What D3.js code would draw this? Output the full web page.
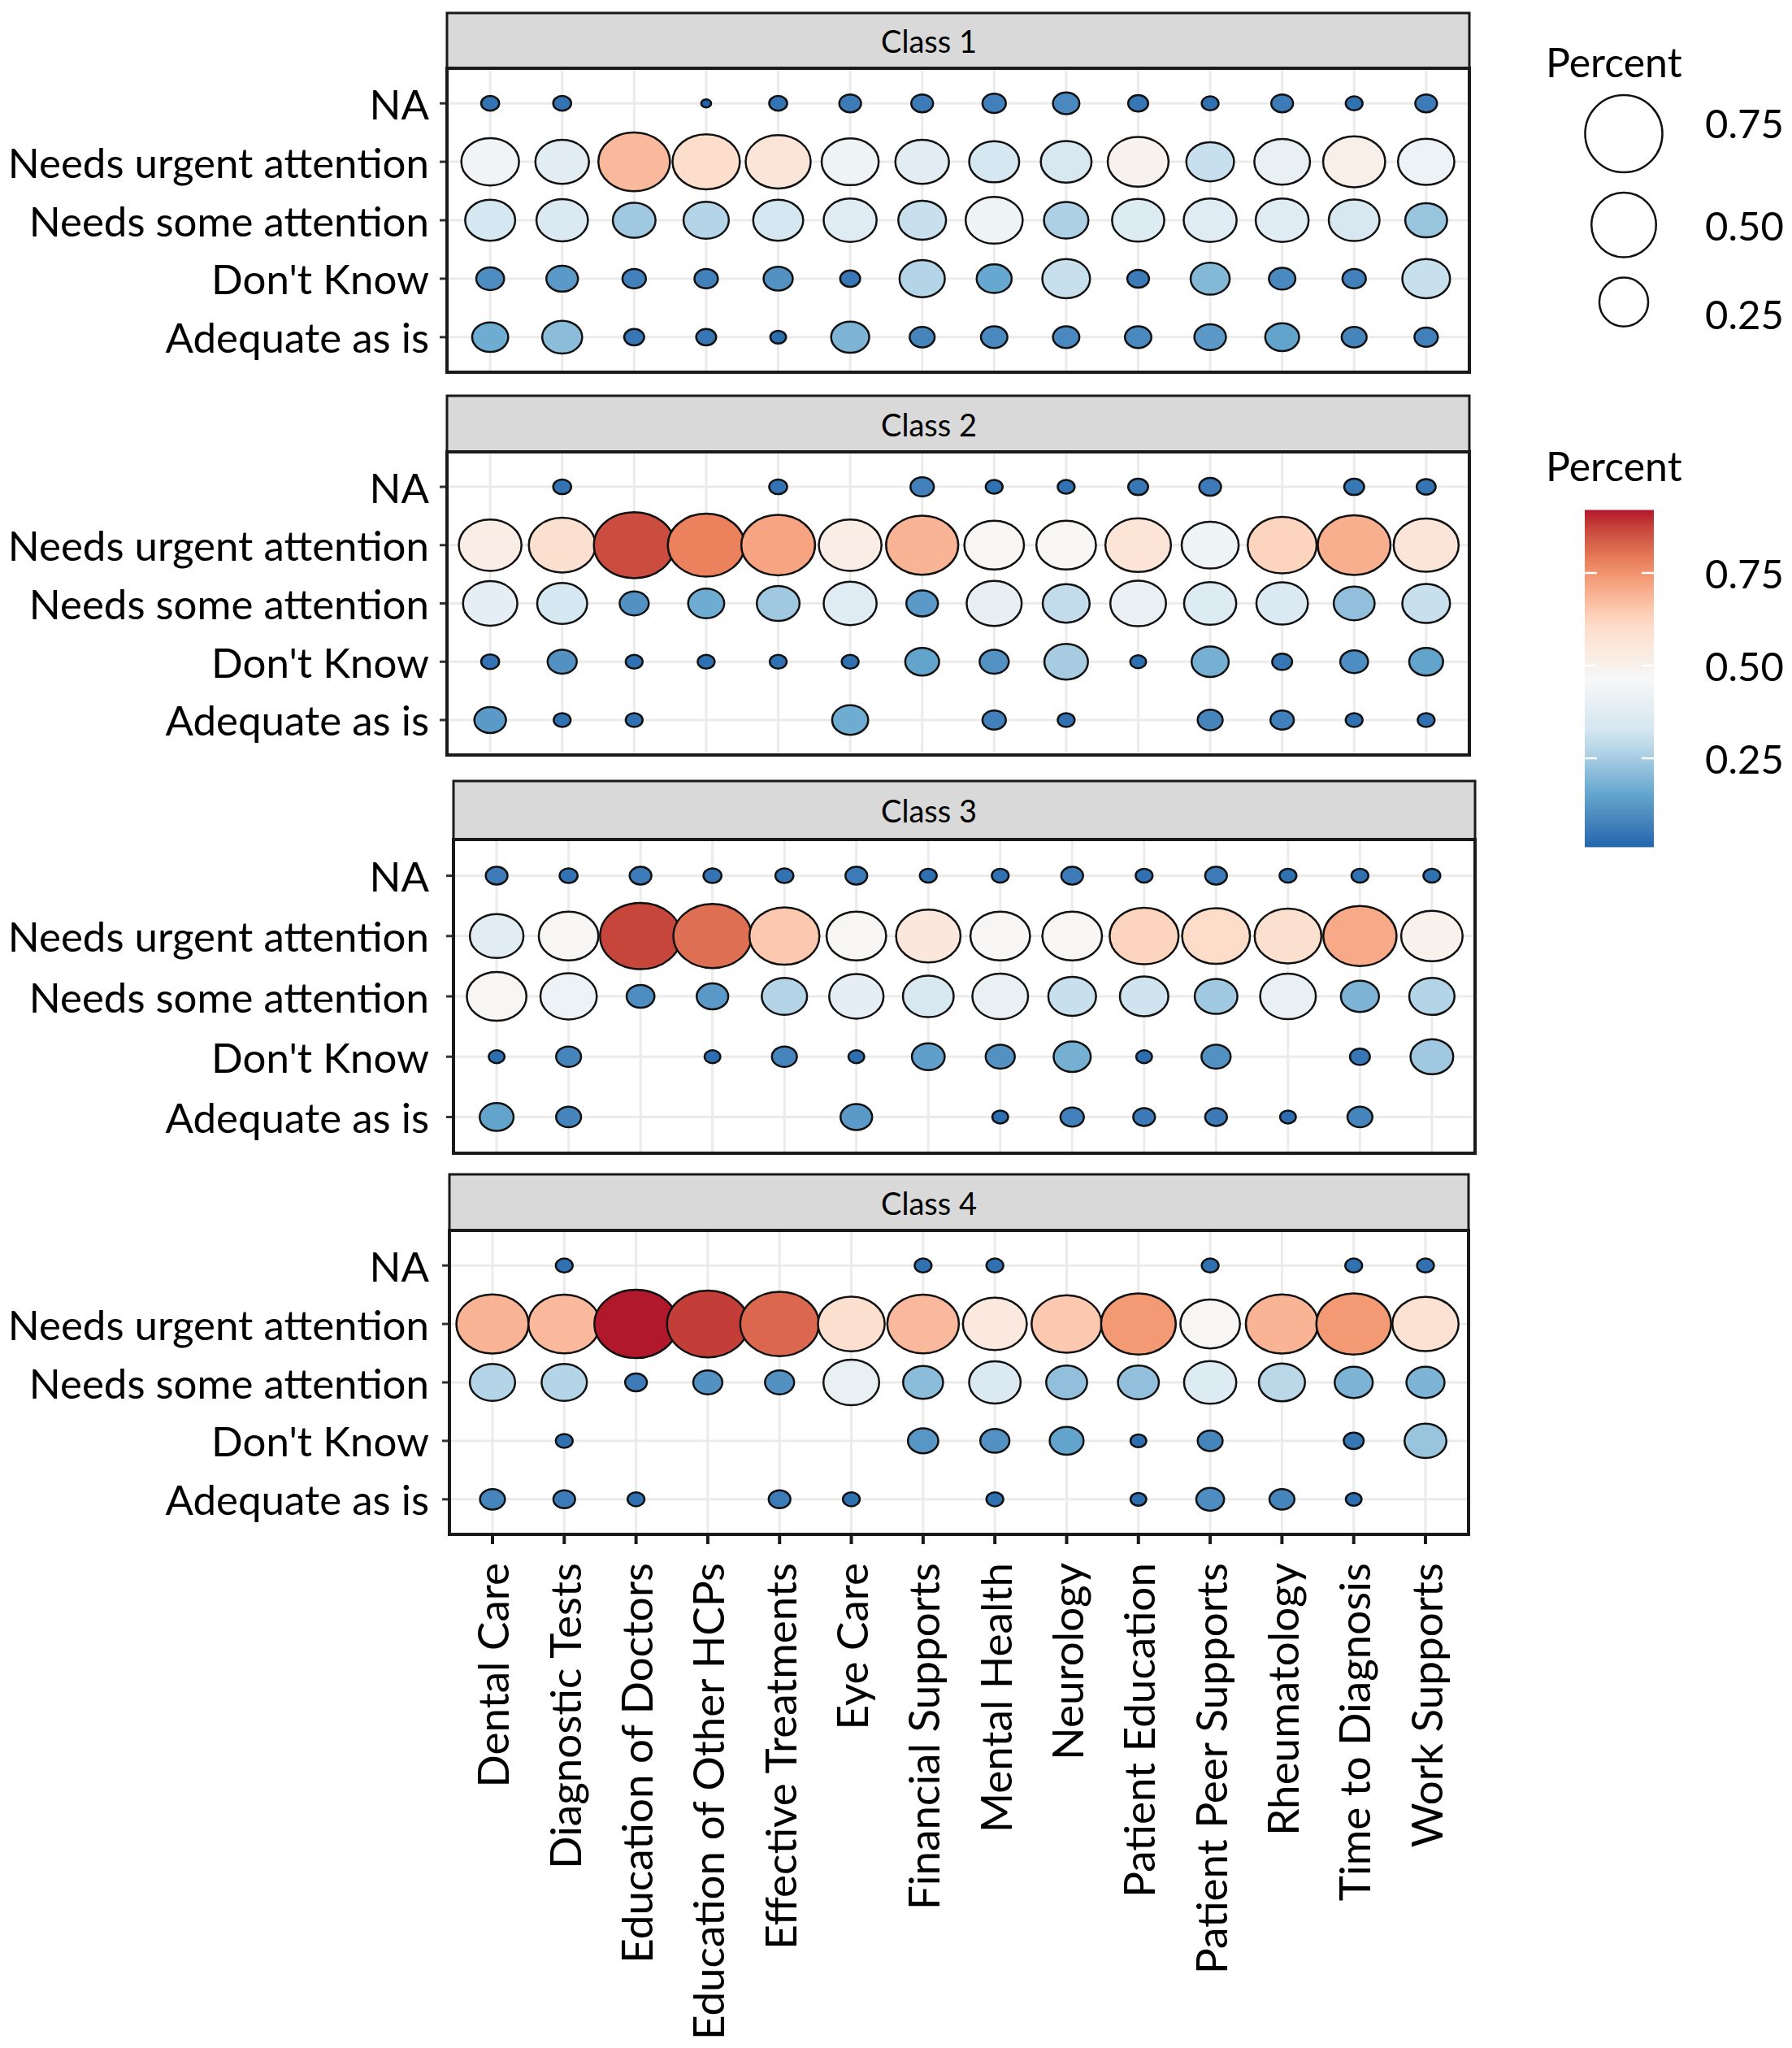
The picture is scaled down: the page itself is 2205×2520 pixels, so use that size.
<!DOCTYPE html>
<html>
<head>
<meta charset="utf-8">
<script src="https://cdn.jsdelivr.net/npm/d3@7"></script>
<style>
  body { margin: 0; background: #ffffff; }
  text { font-family: Lato, "Open Sans", sans-serif; fill: #000; }
</style>
</head>
<body>
<svg id="canvas" width="2205" height="2520"></svg>
<script>
"use strict"

// ---- data ----
const classes = ["Class 1", "Class 2", "Class 3", "Class 4"];
const responses = ["NA", "Needs urgent attention", "Needs some attention", "Don't Know", "Adequate as is"];
const services = ["Dental Care", "Diagnostic Tests", "Education of Doctors", "Education of Other HCPs",
    "Effective Treatments", "Eye Care", "Financial Supports", "Mental Health", "Neurology",
    "Patient Education", "Patient Peer Supports", "Rheumatology", "Time to Diagnosis", "Work Supports"];

// one row per response (same order as responses), one value per service, null = no point
const class1 = [
    [0.04, 0.04, null, 0.01, 0.04, 0.06, 0.06, 0.07, 0.09, 0.05, 0.035, 0.06, 0.035, 0.06],
    [0.44, 0.38, 0.68, 0.60, 0.56, 0.43, 0.38, 0.33, 0.34, 0.49, 0.30, 0.41, 0.51, 0.42],
    [0.33, 0.35, 0.24, 0.27, 0.33, 0.37, 0.30, 0.43, 0.26, 0.36, 0.37, 0.37, 0.34, 0.23],
    [0.10, 0.13, 0.07, 0.07, 0.11, 0.05, 0.27, 0.16, 0.30, 0.06, 0.20, 0.09, 0.07, 0.30],
    [0.17, 0.21, 0.05, 0.05, 0.03, 0.19, 0.08, 0.09, 0.09, 0.09, 0.13, 0.15, 0.08, 0.07]
];
const class2 = [
    [null, 0.04, null, null, 0.04, null, 0.07, 0.035, 0.035, 0.05, 0.06, null, 0.05, 0.045],
    [0.52, 0.59, 0.86, 0.78, 0.72, 0.52, 0.69, 0.47, 0.47, 0.57, 0.43, 0.63, 0.70, 0.56],
    [0.39, 0.33, 0.11, 0.17, 0.24, 0.37, 0.13, 0.40, 0.29, 0.41, 0.36, 0.35, 0.22, 0.30],
    [0.04, 0.11, 0.035, 0.035, 0.035, 0.035, 0.15, 0.11, 0.25, 0.03, 0.18, 0.05, 0.10, 0.15],
    [0.13, 0.035, 0.035, null, null, 0.17, null, 0.07, 0.035, null, 0.08, 0.07, 0.035, 0.035]
];
const class3 = [
    [0.06, 0.04, 0.06, 0.04, 0.04, 0.06, 0.035, 0.035, 0.06, 0.035, 0.06, 0.035, 0.035, 0.035],
    [0.38, 0.47, 0.87, 0.81, 0.65, 0.47, 0.55, 0.47, 0.47, 0.63, 0.61, 0.59, 0.71, 0.50],
    [0.47, 0.42, 0.10, 0.13, 0.27, 0.39, 0.34, 0.41, 0.30, 0.31, 0.24, 0.41, 0.19, 0.27],
    [0.03, 0.08, null, 0.03, 0.08, 0.03, 0.14, 0.11, 0.18, 0.03, 0.11, null, 0.05, 0.24],
    [0.15, 0.08, null, null, null, 0.13, null, 0.03, 0.07, 0.06, 0.06, 0.03, 0.08, null]
];
const class4 = [
    [null, 0.035, null, null, null, null, 0.035, 0.035, null, null, 0.035, null, 0.035, 0.035],
    [0.69, 0.68, 0.92, 0.88, 0.82, 0.59, 0.68, 0.54, 0.65, 0.74, 0.47, 0.69, 0.74, 0.58],
    [0.27, 0.27, 0.06, 0.11, 0.11, 0.41, 0.21, 0.35, 0.22, 0.22, 0.36, 0.28, 0.19, 0.19],
    [null, 0.035, null, null, null, null, 0.12, 0.11, 0.15, 0.03, 0.08, null, 0.05, 0.23],
    [0.08, 0.06, 0.035, null, 0.06, 0.035, null, 0.035, null, 0.03, 0.10, 0.08, 0.03, null]
];
const classValues = [class1, class2, class3, class4];

const sizeBreaks = [0.75, 0.50, 0.25];
const colourBreaks = [0.75, 0.50, 0.25];
const rdbu7 = ["#2166ac", "#67a9cf", "#d1e5f0", "#f7f7f7", "#fddbc7", "#ef8a62", "#b2182b"];

// ---- layout (each facet was pasted in at a slightly different spot) ----
const panelBoxes = [
    { x0: 550, x1: 1808, stripTop: 16,   top: 84,   bottom: 458 },
    { x0: 550, x1: 1808, stripTop: 487,  top: 556,  bottom: 929 },
    { x0: 558, x1: 1815, stripTop: 961,  top: 1033, bottom: 1419 },
    { x0: 553, x1: 1807, stripTop: 1445, top: 1514, bottom: 1888 }
];
const yLabelRight = 528;
const stripTextX = 1143;

let svg = d3.select("#canvas");

// flatten to points
let points = [];
classValues.forEach((rows, c) => {
    rows.forEach((vals, r) => {
        vals.forEach((v, s) => {
            if (v != null) points.push({ cls: c, response: responses[r], service: services[s], value: v });
        });
    });
});

let vMin = d3.min(points, d => d.value);
let vMax = d3.max(points, d => d.value);

// fill: distiller RdBu, 7 brewer colours stretched over the data range
let colour = d3.scaleLinear()
    .domain(d3.range(7).map(i => vMin + (vMax - vMin) * i / 6))
    .range(rdbu7)
    .interpolate(d3.interpolateLab);

// size: area linear between min and max radius (ggplot style)
let areaScale = d3.scaleLinear().domain([vMin, vMax]).range([5 * 5, 42 * 42]);
let ry = v => Math.sqrt(areaScale(v));
let stretchX = 1.22;   // facets were stretched sideways, so points are ellipses

/* ---------- facets ---------- */
panelBoxes.forEach((box, c) => {
    let x = d3.scalePoint().domain(services).range([box.x0, box.x1]).padding(0.6);
    let y = d3.scalePoint().domain(responses).range([box.top, box.bottom]).padding(0.6);
    let g = svg.append("g");

    // strip
    g.append("rect")
        .attr("x", box.x0).attr("y", box.stripTop)
        .attr("width", box.x1 - box.x0).attr("height", box.top - box.stripTop)
        .attr("fill", "#d9d9d9").attr("stroke", "#1a1a1a").attr("stroke-width", 3);
    g.append("text")
        .attr("x", stripTextX).attr("y", (box.stripTop + box.top) / 2)
        .attr("text-anchor", "middle").attr("dominant-baseline", "central")
        .attr("font-size", 38).text(classes[c]);

    // panel background + grid
    g.append("rect")
        .attr("x", box.x0).attr("y", box.top)
        .attr("width", box.x1 - box.x0).attr("height", box.bottom - box.top)
        .attr("fill", "#ffffff");
    g.selectAll(".vgrid").data(services).join("line")
        .attr("x1", d => x(d)).attr("x2", d => x(d))
        .attr("y1", box.top).attr("y2", box.bottom)
        .attr("stroke", "#ebebeb").attr("stroke-width", 3);
    g.selectAll(".hgrid").data(responses).join("line")
        .attr("x1", box.x0).attr("x2", box.x1)
        .attr("y1", d => y(d)).attr("y2", d => y(d))
        .attr("stroke", "#ebebeb").attr("stroke-width", 3);

    // points
    g.selectAll(".pt").data(points.filter(p => p.cls == c)).join("ellipse")
        .attr("cx", d => x(d.service))
        .attr("cy", d => y(d.response))
        .attr("rx", d => ry(d.value) * stretchX)
        .attr("ry", d => ry(d.value))
        .attr("fill", d => colour(d.value))
        .attr("stroke", "#111").attr("stroke-width", 2.5);

    // panel border
    g.append("rect")
        .attr("x", box.x0).attr("y", box.top)
        .attr("width", box.x1 - box.x0).attr("height", box.bottom - box.top)
        .attr("fill", "none").attr("stroke", "#1a1a1a").attr("stroke-width", 4);

    // y axis
    g.selectAll(".ytick").data(responses).join("line")
        .attr("x1", box.x0 - 9).attr("x2", box.x0 - 2)
        .attr("y1", d => y(d)).attr("y2", d => y(d))
        .attr("stroke", "#333").attr("stroke-width", 3);
    g.selectAll(".ylab").data(responses).join("text")
        .attr("x", yLabelRight).attr("y", d => y(d))
        .attr("text-anchor", "end").attr("dominant-baseline", "central")
        .attr("font-size", 51).text(d => d);

    // x axis only under the last facet
    if (c == panelBoxes.length - 1) {
        g.selectAll(".xtick").data(services).join("line")
            .attr("x1", d => x(d)).attr("x2", d => x(d))
            .attr("y1", box.bottom + 2).attr("y2", box.bottom + 12)
            .attr("stroke", "#1a1a1a").attr("stroke-width", 4);
        g.selectAll(".xlab").data(services).join("text")
            .attr("transform", d => "translate(" + x(d) + "," + (box.bottom + 35) + ") rotate(-90)")
            .attr("text-anchor", "end").attr("dominant-baseline", "central")
            .attr("font-size", 53).text(d => d);
    }
});

/* ---------- size legend ---------- */
let legendR = v => Math.sqrt(225 + 2712 * v);
svg.append("text").attr("x", 1902).attr("y", 95).attr("font-size", 50).text("Percent");
let keyY = [];
let cursor = 117;
sizeBreaks.forEach(v => {
    keyY.push(cursor + legendR(v));
    cursor += 2 * legendR(v) + 25;
});
svg.selectAll(".skey").data(sizeBreaks).join("circle")
    .attr("cx", 1998).attr("cy", (d, i) => keyY[i])
    .attr("r", d => legendR(d))
    .attr("fill", "#ffffff").attr("stroke", "#111").attr("stroke-width", 2.5);
svg.selectAll(".slab").data(sizeBreaks).join("text")
    .attr("x", 2098).attr("y", (d, i) => keyY[i] + (0.5 - d) * 56)
    .attr("dominant-baseline", "central").attr("font-size", 49)
    .text(d => d.toFixed(2));

/* ---------- colour bar ---------- */
let barY = d3.scaleLinear().domain([0.25, 0.75]).range([933, 705]);
let barX = 1950, barW = 85;
svg.append("text").attr("x", 1902).attr("y", 592).attr("font-size", 50).text("Percent");

let grad = svg.append("defs").append("linearGradient")
    .attr("id", "pctgrad").attr("x1", 0).attr("x2", 0).attr("y1", 1).attr("y2", 0);
grad.selectAll("stop").data(d3.range(0, 1.0001, 0.05)).join("stop")
    .attr("offset", d => d)
    .attr("stop-color", d => colour(vMin + d * (vMax - vMin)));

svg.append("rect")
    .attr("x", barX).attr("y", barY(vMax))
    .attr("width", barW).attr("height", barY(vMin) - barY(vMax))
    .attr("fill", "url(#pctgrad)");

colourBreaks.forEach(v => {
    svg.append("line").attr("x1", barX).attr("x2", barX + 15)
        .attr("y1", barY(v)).attr("y2", barY(v))
        .attr("stroke", "#ffffff").attr("stroke-width", 2.5);
    svg.append("line").attr("x1", barX + barW - 15).attr("x2", barX + barW)
        .attr("y1", barY(v)).attr("y2", barY(v))
        .attr("stroke", "#ffffff").attr("stroke-width", 2.5);
});
svg.selectAll(".clab").data(colourBreaks).join("text")
    .attr("x", 2098).attr("y", d => barY(d))
    .attr("dominant-baseline", "central").attr("font-size", 49)
    .text(d => d.toFixed(2));
</script>
</body>
</html>
